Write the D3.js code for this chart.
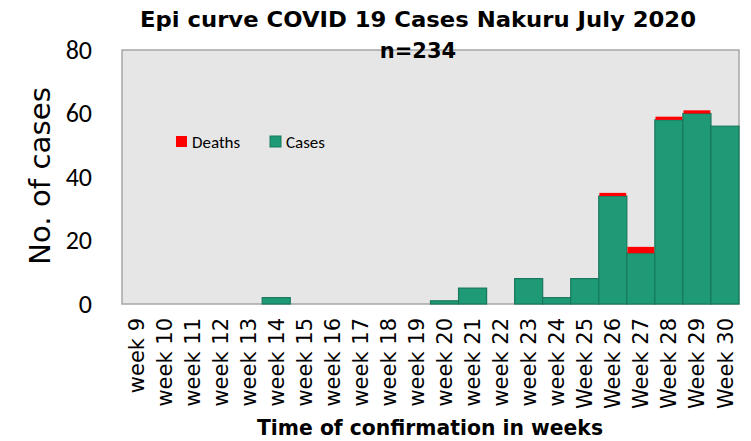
<!DOCTYPE html>
<html><head><meta charset="utf-8">
<script src="https://cdn.jsdelivr.net/npm/d3@7"></script>
<style>body{margin:0;background:#fff}svg{display:block}</style>
</head><body>
<svg id="c" width="751" height="441"></svg>
<script>
const weeks = ["week 9","week 10","week 11","week 12","week 13","week 14","week 15","week 16","week 17","week 18","week 19","week 20","week 21","week 22","week 23","week 24","Week 25","Week 26","Week 27","Week 28","Week 29","Week 30"];
const cases  = [0,0,0,0,0,2,0,0,0,0,0,1,5,0,8,2,8,34,16,58,60,56];
const deaths = [0,0,0,0,0,0,0,0,0,0,0,0,0,0,0,0,0,1,2,1,1,0];
const yTicks = [0,20,40,60,80];
const titleLines = ["Epi curve COVID 19 Cases Nakuru July 2020","n=234"];

const svg = d3.select("#c");
const m = {l:122, r:739, t:50, b:304};
const x = d3.scaleBand().domain(weeks).range([m.l, m.r]).padding(0);
const y = d3.scaleLinear().domain([0,80]).range([m.b, m.t]);

svg.append("rect").attr("x",m.l).attr("y",m.t).attr("width",m.r-m.l).attr("height",m.b-m.t)
  .attr("fill","#e6e6e6").attr("stroke","#a6a6a6").attr("stroke-width",1.5);

const data = weeks.map((w,i)=>({w, c:cases[i], d:deaths[i]}));
svg.append("g").selectAll("rect").data(data.filter(d=>d.c>0)).join("rect")
  .attr("x",d=>x(d.w)).attr("width",x.bandwidth())
  .attr("y",d=>y(d.c)).attr("height",d=>y(0)-y(d.c))
  .attr("fill","#1f9a77").attr("stroke","#17785c").attr("stroke-width",1.2);
svg.append("g").selectAll("rect").data(data.filter(d=>d.d>0)).join("rect")
  .attr("x",d=>x(d.w)+0.6).attr("width",x.bandwidth()-1.2)
  .attr("y",d=>y(d.c+d.d)).attr("height",d=>y(d.c)-y(d.c+d.d))
  .attr("fill","#ff0000");

// y axis
const ya = svg.append("g").attr("transform",`translate(${m.l},0)`)
  .call(d3.axisLeft(y).tickValues(yTicks).tickSize(0).tickPadding(30));
ya.select(".domain").remove();
ya.selectAll("text").attr("font-family","Carlito, 'Open Sans', sans-serif").attr("font-size",26).attr("fill","#000");

// x axis
const xa = svg.append("g").attr("transform",`translate(0,${m.b})`)
  .call(d3.axisBottom(x).tickSize(0).tickPadding(0));
xa.select(".domain").remove();
xa.selectAll("text").attr("font-family","'DejaVu Sans', sans-serif").attr("font-size",21).attr("fill","#000")
  .attr("transform","rotate(-90)").attr("text-anchor","end").attr("x",-14).attr("y",0).attr("dy","0.36em");

// titles
svg.selectAll("text.t").data(titleLines).join("text").attr("class","t")
  .attr("x",418).attr("y",(d,i)=>27+i*31).attr("text-anchor","middle")
  .attr("font-family","'DejaVu Sans', sans-serif").attr("font-weight","bold").attr("font-size",21)
  .attr("textLength",(d,i)=>i===0?556:null).attr("lengthAdjust","spacingAndGlyphs")
  .text(d=>d);
svg.append("text").attr("x",430).attr("y",435).attr("text-anchor","middle")
  .attr("font-family","'DejaVu Sans', sans-serif").attr("font-weight","bold").attr("font-size",21)
  .attr("textLength",346).attr("lengthAdjust","spacingAndGlyphs")
  .text("Time of confirmation in weeks");
svg.append("text").attr("transform","translate(50,176) rotate(-90)").attr("text-anchor","middle")
  .attr("font-family","'DejaVu Sans', sans-serif").attr("font-size",28)
  .attr("textLength",178).attr("lengthAdjust","spacingAndGlyphs")
  .text("No. of cases");

// legend
const leg = [{n:"Deaths",c:"#ff0000",s:"none",x:176},{n:"Cases",c:"#1f9a77",s:"#17785c",x:270}];
const lg = svg.append("g").selectAll("g").data(leg).join("g").attr("transform",d=>`translate(${d.x},136)`);
lg.append("rect").attr("width",11).attr("height",11).attr("fill",d=>d.c).attr("stroke",d=>d.s);
lg.append("text").attr("x",16).attr("y",12).attr("font-family","Carlito, 'Open Sans', sans-serif").attr("font-size",17).attr("fill","#000").text(d=>d.n);
</script>
</body></html>
